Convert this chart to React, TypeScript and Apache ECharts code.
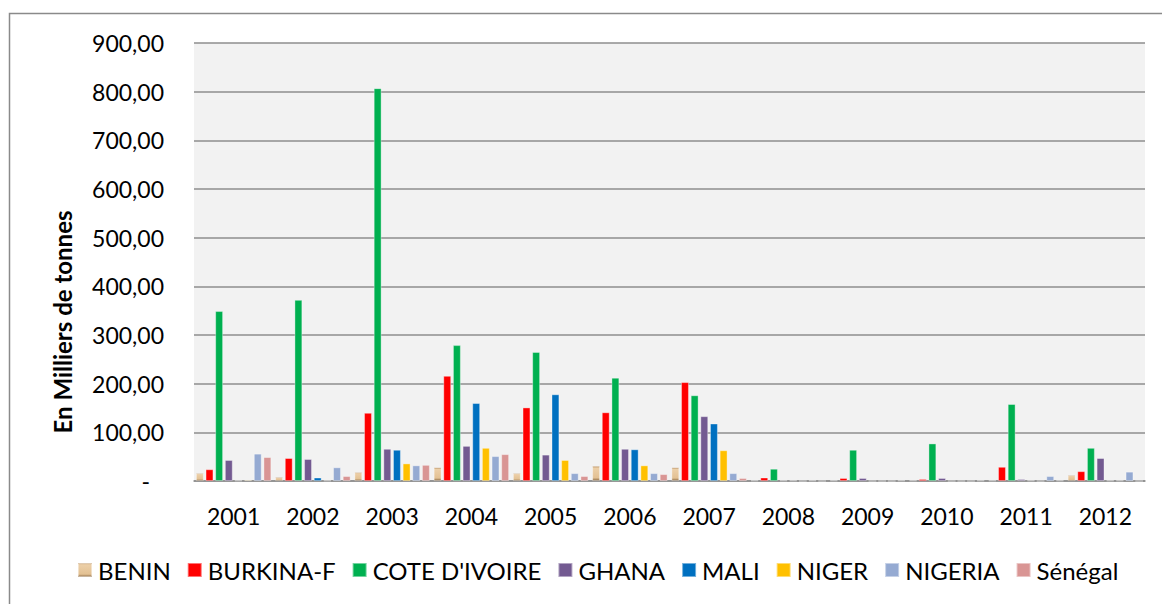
import React, { useEffect, useRef } from "react";
import * as echarts from "echarts";

const years = ["2001", "2002", "2003", "2004", "2005", "2006", "2007", "2008", "2009", "2010", "2011", "2012"];
const yTicks = [0, 100, 200, 300, 400, 500, 600, 700, 800, 900];

const benin = [16, 8, 18, 28, 16, 31, 28, 1, 1, 1, 1, 12];
const burkina = [24, 47, 140, 216, 151, 141, 203, 7, 6, 4, 29, 20];
const coteIvoire = [349, 372, 807, 279, 265, 212, 176, 25, 64, 77, 158, 68];
const ghana = [43, 45, 66, 72, 54, 66, 133, 1, 6, 6, 4, 47];
const mali = [1, 7, 64, 160, 178, 65, 118, 1, 0, 0, 1, 1];
const niger = [2, 1, 36, 68, 43, 32, 63, 0, 0, 0, 0, 1];
const nigeria = [56, 28, 32, 51, 16, 16, 16, 1, 0, 0, 10, 19];
const senegal = [49, 10, 33, 55, 10, 14, 6, 0, 1, 1, 1, 0];

const seriesNames = ["BENIN", "BURKINA-F", "COTE D'IVOIRE", "GHANA", "MALI", "NIGER", "NIGERIA", "Sénégal"];
const seriesData = [benin, burkina, coteIvoire, ghana, mali, niger, nigeria, senegal];

const beninGradient = new echarts.graphic.LinearGradient(0, 0, 0, 1, [
  { offset: 0, color: "#b48a5a" },
  { offset: 0.12, color: "#eccfa8" },
  { offset: 0.8, color: "#e3c193" },
  { offset: 1, color: "#8c6a44" },
]);
const colors: any[] = [beninGradient, "#ff0000", "#00b050", "#735a91", "#0070c0", "#ffc000", "#95aad2", "#d99594"];

const FONT = "Lato, 'Open Sans', sans-serif";

export default function App() {
  const ref = useRef<HTMLDivElement>(null);
  useEffect(() => {
    if (!ref.current) return;
    const chart = echarts.init(ref.current, null, { renderer: "svg" });
    chart.setOption({
      animation: false,
      textStyle: { fontFamily: FONT },
      grid: {
        left: 194,
        right: 17,
        top: 43,
        bottom: 123,
        show: true,
        backgroundColor: "#f2f2f2",
        borderWidth: 0,
      },
      legend: {
        bottom: 17,
        left: 72,
        itemWidth: 14,
        itemHeight: 14,
        itemGap: 16,
        icon: "rect",
        textStyle: { fontSize: 24, color: "#000", fontFamily: FONT, padding: [0, 0, 0, 1] },
        data: seriesNames,
      },
      xAxis: {
        type: "category",
        data: years,
        axisLine: { lineStyle: { color: "#8e8e8e", width: 1.5 } },
        axisTick: { show: false },
        axisLabel: { fontSize: 23, color: "#000", margin: 23 },
      },
      yAxis: {
        type: "value",
        min: yTicks[0],
        max: yTicks[yTicks.length - 1],
        interval: 100,
        axisLine: { show: false },
        axisTick: { show: false },
        splitLine: { lineStyle: { color: "#8e8e8e", width: 1.5 } },
        axisLabel: {
          fontSize: 23,
          color: "#000",
          margin: 30,
          formatter: (v: number) =>
            v === 0 ? "{d|-}" : v.toFixed(2).replace(".", ","),
          rich: { d: { fontSize: 23, color: "#000", padding: [0, 14, 0, 0] } },
        },
      },
      graphic: [
        {
          type: "rect",
          shape: { x: 9.5, y: 13.5, width: 1200, height: 700 },
          style: { fill: "none", stroke: "#8a8a8a", lineWidth: 1.5 },
          silent: true,
        },
        {
          type: "text",
          x: 62,
          y: 322,
          rotation: Math.PI / 2,
          style: {
            text: "En Milliers de tonnes",
            fontSize: 24,
            fontWeight: "bold",
            fontFamily: FONT,
            fill: "#000",
            textAlign: "center",
            textVerticalAlign: "middle",
          },
        },
      ],
      series: seriesNames.map((name, i) => ({
        name,
        type: "bar",
        data: seriesData[i],
        barCategoryGap: "5%",
        barGap: "25%",
        itemStyle: {
          color: colors[i],
          borderColor: "rgba(255,255,255,0.45)",
          borderWidth: 0.8,
        },
      })),
    });
    return () => chart.dispose();
  }, []);
  return (
    <div
      ref={ref}
      style={{ position: "fixed", left: 0, top: 0, width: 1162, height: 604, background: "#fff" }}
    />
  );
}
